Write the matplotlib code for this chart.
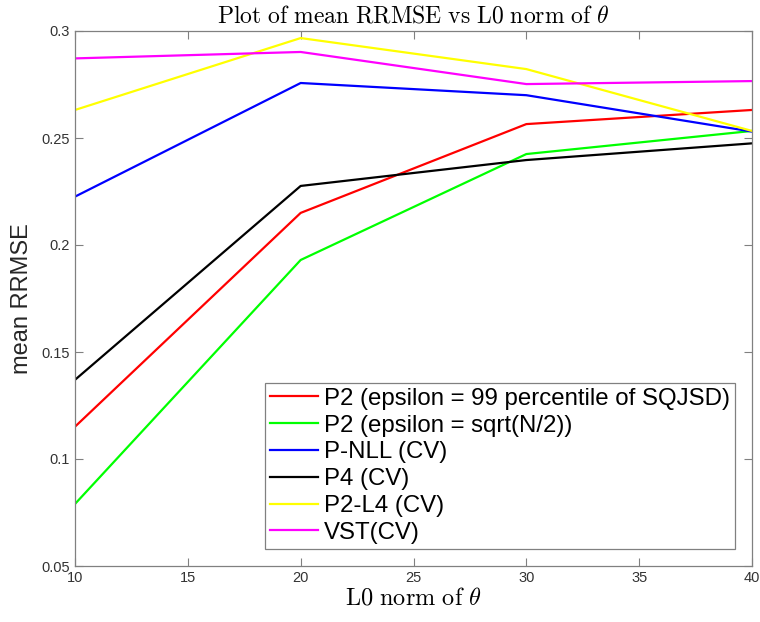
import matplotlib
matplotlib.use("Agg")
import matplotlib.pyplot as plt

plt.rcParams['mathtext.fontset'] = 'cm'
plt.rcParams['font.family'] = ['Liberation Sans', 'DejaVu Sans']

x_vals = [10, 20, 30, 40]
series_labels = [
    "P2 (epsilon = 99 percentile of SQJSD)",
    "P2 (epsilon = sqrt(N/2))",
    "P-NLL (CV)",
    "P4 (CV)",
    "P2-L4 (CV)",
    "VST(CV)",
]
p2_99 = [0.1151, 0.2150, 0.2565, 0.2631]
p2_sqrt = [0.0790, 0.1930, 0.2425, 0.2533]
p_nll = [0.2226, 0.2757, 0.2700, 0.2530]
p4 = [0.1370, 0.2276, 0.2397, 0.2475]
p2_l4 = [0.2631, 0.2967, 0.2822, 0.2533]
vst = [0.2872, 0.2902, 0.2752, 0.2766]
colors = ['#ff0000', '#00ff00', '#0000ff', '#000000', '#ffff00', '#ff00ff']

x_ticks = [10, 15, 20, 25, 30, 35, 40]
y_ticks = [0.05, 0.1, 0.15, 0.2, 0.25, 0.3]
y_tick_labels = ['0.05', '0.1', '0.15', '0.2', '0.25', '0.3']

fig = plt.figure(figsize=(7.6, 6.22), dpi=100)
ax = fig.add_axes([75/760, 1-566/622, (752-75)/760, (566-31)/622])

for vals, lab, c in zip([p2_99, p2_sqrt, p_nll, p4, p2_l4, vst], series_labels, colors):
    ax.plot(x_vals, vals, color=c, lw=1.6, label=lab)

ax.set_xlim(10, 40)
ax.set_ylim(0.05, 0.3)
ax.set_xticks(x_ticks)
ax.set_yticks(y_ticks)
ax.set_yticklabels(y_tick_labels)
ax.tick_params(direction='in', top=True, right=True, length=6, width=0.8,
               colors='#808080', labelcolor='#333333', labelsize=10.5)
for s in ax.spines.values():
    s.set_color('#808080')
    s.set_linewidth(0.9)

ax.set_title(r'$\mathrm{Plot\ of\ mean\ RRMSE\ vs\ L0\ norm\ of\ }\theta$', fontsize=17, pad=6)
ax.set_xlabel(r'$\mathrm{L0\ norm\ of\ }\theta$', fontsize=17.5, labelpad=2)
ax.set_ylabel('mean RRMSE', fontsize=17, color='#262626', labelpad=6)

leg = ax.legend(loc='lower right', fontsize=17.3, frameon=True, fancybox=False,
                edgecolor='#808080', framealpha=1, handlelength=2.0,
                handletextpad=0.25, labelspacing=0.2, borderpad=0.22,
                borderaxespad=0.7)
leg.get_frame().set_linewidth(0.9)

fig.savefig('out.png', dpi=100)
